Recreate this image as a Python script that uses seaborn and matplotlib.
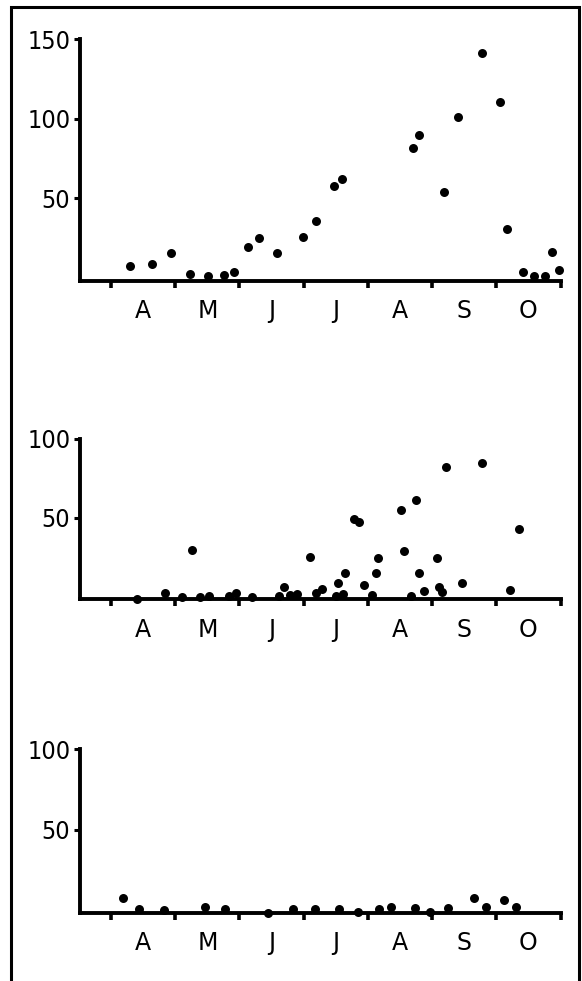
"""
Three seasonal scatter panels (April - October), monthly counts
"""

import numpy as np
import pandas as pd
import matplotlib
matplotlib.use("Agg")
import matplotlib.pyplot as plt
from matplotlib.patches import Rectangle
import seaborn as sns

# month boundaries (0 = 1 April) and the letters between them
month_edges = [0, 1, 2, 3, 4, 5, 6, 7]
month_letters = ["A", "M", "J", "J", "A", "S", "O"]

# panel 1
p1_x = [0.29, 0.64, 0.94, 1.23, 1.51, 1.76, 1.91, 2.13, 2.31, 2.58, 2.99, 3.19, 3.47,
        3.60, 4.71, 4.80, 5.18, 5.41, 5.77, 6.06, 6.17, 6.42, 6.59, 6.76, 6.86, 6.97]
p1_y = [7.6, 8.5, 15.8, 2.2, 1.1, 1.8, 3.8, 19.2, 24.8, 15.8, 25.8, 35.7, 57.9,
        62.3, 81.8, 89.8, 54.0, 100.9, 141.6, 110.6, 30.7, 3.6, 1.1, 1.1, 16.0, 4.7]

# panel 2
p2_x = [0.41, 0.84, 1.10, 1.26, 1.39, 1.52, 1.84, 1.94, 2.19, 2.61,
        2.70, 2.78, 2.90, 3.10, 3.19, 3.28, 3.51, 3.54, 3.62, 3.65,
        3.78, 3.86, 3.94, 4.07, 4.13, 4.16, 4.52, 4.56, 4.67, 4.75,
        4.80, 4.87, 5.07, 5.11, 5.15, 5.22, 5.47, 5.77, 6.22, 6.36]
p2_y = [-1.8, 2.0, -0.4, 29.5, -0.4, 0.1, 0.4, 2.4, -0.4, 0.4,
        5.8, 0.9, 1.5, 25.2, 2.0, 4.5, 0.1, 8.5, 1.5, 14.7,
        49.2, 47.1, 7.2, 0.9, 15.1, 24.6, 54.9, 28.7, 0.3, 61.4,
        14.7, 3.6, 24.2, 6.2, 3.0, 82.2, 8.5, 84.9, 4.1, 42.8]

# panel 3
p3_x = [0.19, 0.44, 0.82, 1.46, 1.78, 2.45, 2.83, 3.17, 3.55, 3.84,
        4.17, 4.36, 4.74, 4.96, 5.25, 5.66, 5.84, 6.12, 6.30]
p3_y = [7.3, 0.9, 0.0, 1.7, 0.5, -1.5, 0.9, 0.9, 0.9, -1.0,
        0.5, 1.7, 1.5, -1.0, 1.5, 7.3, 1.7, 6.3, 1.7]

p1_yticks = [50, 100, 150]
p2_yticks = [50, 100]
p3_yticks = [50, 100]

sns.set_style("white")
plt.rcParams["font.family"] = ["DejaVu Sans"]
plt.rcParams["text.color"] = "black"
plt.rcParams["xtick.color"] = "black"
plt.rcParams["ytick.color"] = "black"
plt.rcParams["xtick.labelcolor"] = "black"
plt.rcParams["ytick.labelcolor"] = "black"

fig = plt.figure(figsize=(5.82, 9.81), dpi=100)

# axes boxes in figure fractions: [left, bottom, width, height]
boxes = [
    [0.1375, 0.7136, 0.8256, 0.2462],
    [0.1375, 0.3889, 0.8256, 0.1636],
    [0.1375, 0.0690, 0.8256, 0.1672],
]
panels = [
    (p1_x, p1_y, p1_yticks, 150),
    (p2_x, p2_y, p2_yticks, 100),
    (p3_x, p3_y, p3_yticks, 100),
]

for box, (xs, ys, yticks, ytop) in zip(boxes, panels):
    ax = fig.add_axes(box)
    df = pd.DataFrame({"month": xs, "count": ys})
    sns.scatterplot(data=df, x="month", y="count", ax=ax, color="black",
                    s=42, linewidth=0, clip_on=False, zorder=5, legend=False)
    ax.set_xlim(-0.483, 7.0)
    ax.set_ylim(-2, ytop)
    ax.set_xlabel("")
    ax.set_ylabel("")
    sns.despine(ax=ax)
    for side in ("left", "bottom"):
        ax.spines[side].set_linewidth(2.8)
        ax.spines[side].set_color("black")
        ax.spines[side].set_capstyle("projecting")

    ax.set_xticks(month_edges)
    ax.set_xticklabels([])
    ax.set_xticks([m + 0.5 for m in month_edges[:-1]], minor=True)
    ax.set_xticklabels(month_letters, minor=True, fontsize=17, color="black")
    ax.tick_params(axis="x", which="major", direction="out", length=5,
                   width=2.6, color="black", bottom=True)
    ax.tick_params(axis="x", which="minor", length=0, pad=13)

    ax.set_yticks(yticks)
    ax.set_yticklabels([str(t) for t in yticks], fontsize=18, color="black",
                       fontstretch="condensed")
    ax.tick_params(axis="y", direction="out", length=4, width=2.2,
                   color="black", left=True, pad=3)

# the scanned frame round the figure (open at the bottom)
frame = Rectangle((11 / 582, -0.05), (579 - 11) / 582, 1.05 - 7 / 981,
                  transform=fig.transFigure, fill=False, lw=2.2,
                  edgecolor="black", clip_on=False)
fig.add_artist(frame)

fig.savefig("out.png", dpi=100)
